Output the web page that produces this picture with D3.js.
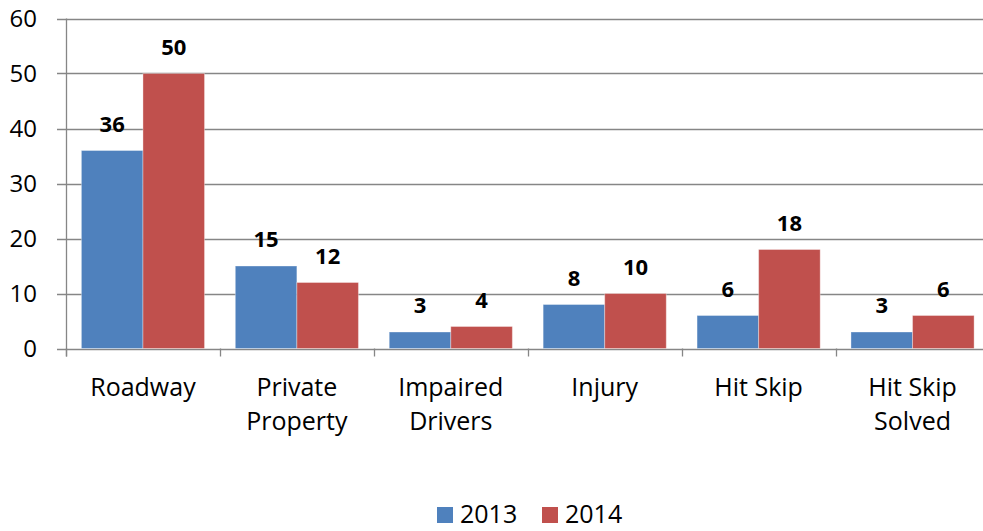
<!DOCTYPE html>
<html>
<head>
<meta charset="utf-8">
<script src="https://cdn.jsdelivr.net/npm/d3@7"></script>
<style>
  html, body { margin: 0; padding: 0; background: #fff; }
  svg { display: block; font-family: "Open Sans", sans-serif; }
</style>
</head>
<body>
<svg id="chart" width="983" height="531"></svg>
<script>
const categories = [["Roadway"], ["Private", "Property"], ["Impaired", "Drivers"], ["Injury"], ["Hit Skip"], ["Hit Skip", "Solved"]];
const seriesNames = ["2013", "2014"];
const values2013 = [36, 15, 3, 8, 6, 3];
const values2014 = [50, 12, 4, 10, 18, 6];
const yTicks = [0, 10, 20, 30, 40, 50, 60];
const colors = ["#4F81BD", "#C0504D"];

const svg = d3.select("#chart");
const plotLeft = 66, plotTop = 18.5, plotBottom = 348.5, plotRight = 989.5;

const x0 = d3.scaleBand().domain(d3.range(categories.length)).range([plotLeft, plotRight]).paddingInner(0).paddingOuter(0);
const y = d3.scaleLinear().domain([0, 60]).range([plotBottom, plotTop]);
const bw = x0.bandwidth();
const x1 = d3.scaleBand().domain([0, 1]).range([bw * 0.25 / 2.5, bw - bw * 0.25 / 2.5]).padding(0);

// gridlines
svg.append("g").selectAll("line").data(yTicks).join("line")
  .attr("x1", plotLeft - 9).attr("x2", plotRight)
  .attr("y1", d => Math.round(y(d)) + 0.5).attr("y2", d => Math.round(y(d)) + 0.5)
  .attr("stroke", "#868686").attr("stroke-width", 1.3);

// y axis labels
svg.append("g").selectAll("text").data(yTicks).join("text")
  .attr("x", 37).attr("y", d => y(d)).attr("dy", "0.35em")
  .attr("text-anchor", "end").attr("font-size", 24).attr("fill", "#000")
  .text(d => d);

// bars
const series = [values2013, values2014];
series.forEach((vals, s) => {
  svg.append("g").selectAll("rect").data(vals).join("rect")
    .attr("x", (d, i) => x0(i) + x1(s))
    .attr("y", d => y(d))
    .attr("width", x1.bandwidth())
    .attr("height", d => y(0) - y(d))
    .attr("fill", colors[s])
    .attr("stroke", "#ffffff").attr("stroke-opacity", 0.35).attr("stroke-width", 1);
  svg.append("g").selectAll("text").data(vals).join("text")
    .attr("x", (d, i) => x0(i) + x1(s) + x1.bandwidth() / 2)
    .attr("y", d => y(d) - 19)
    .attr("text-anchor", "middle").attr("font-size", 22).attr("font-weight", "bold")
    .attr("fill", "#000").text(d => d);
});

// axes lines
svg.append("line").attr("x1", plotLeft + 0.5).attr("x2", plotLeft + 0.5).attr("y1", plotTop).attr("y2", plotBottom + 8)
  .attr("stroke", "#868686").attr("stroke-width", 1.3);
svg.append("g").selectAll("line").data(d3.range(categories.length + 1)).join("line")
  .attr("x1", i => Math.round(plotLeft + i * bw) + 0.5).attr("x2", i => Math.round(plotLeft + i * bw) + 0.5)
  .attr("y1", plotBottom).attr("y2", plotBottom + 8)
  .attr("stroke", "#868686").attr("stroke-width", 1.3);

// category labels
const catG = svg.append("g").selectAll("text").data(categories).join("text")
  .attr("text-anchor", "middle").attr("font-size", 25).attr("fill", "#000");
catG.each(function(lines, i) {
  d3.select(this).selectAll("tspan").data(lines).join("tspan")
    .attr("x", x0(i) + bw / 2)
    .attr("y", (l, j) => 396 + j * 34)
    .text(l => l);
});

// legend
const legend = svg.append("g");
const legendX = [437, 542];
seriesNames.forEach((n, s) => {
  legend.append("rect").attr("x", legendX[s]).attr("y", 507).attr("width", 16).attr("height", 16).attr("fill", colors[s]);
  legend.append("text").attr("x", legendX[s] + 23).attr("y", 523).attr("font-size", 25).attr("fill", "#000").text(n);
});
</script>
</body>
</html>
